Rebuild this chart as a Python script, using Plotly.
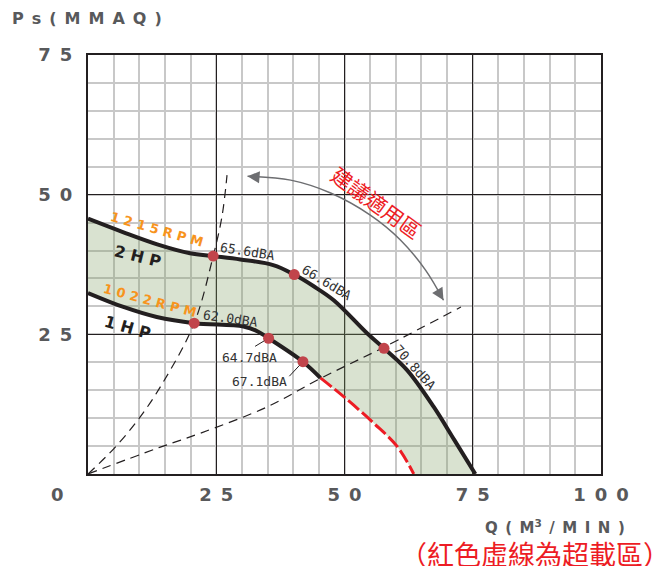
import plotly.graph_objects as go

# 2HP / 1215RPM curve
q_2hp = [0, 6.8, 13.5, 19.9, 24.4, 29.7, 36.1, 40.2, 44, 47.9, 54.4, 57.7, 62.2, 67.4, 71.4, 75.5]
ps_2hp = [45.7, 43.3, 41.1, 39.5, 39.0, 38.4, 37.4, 35.7, 33.6, 31.1, 25.2, 22.5, 18.6, 12.0, 6.1, 0]

# 1HP / 1022RPM curve, normal part then overload part (red dashed)
q_1hp = [0, 6.9, 13.4, 20.7, 30.3, 32.9, 35.2, 41.9, 45.3]
ps_1hp = [32.4, 29.9, 28.1, 27.0, 26.4, 25.6, 24.3, 20.1, 17.2]
q_1hp_over = [45.3, 49.9, 55.7, 60.3, 63.5]
ps_1hp_over = [17.2, 13.8, 9.1, 4.9, 0]

# system resistance curves
q_sys_a = [0, 5.1, 10.0, 14.5, 20.7, 24.4, 26.1, 27.1]
ps_sys_a = [0, 4.6, 10.0, 16.2, 27.0, 39.0, 46.0, 53.5]
q_sys_b = [0, 14.1, 21.9, 34.9, 45.3, 57.7, 72.7]
ps_sys_b = [0, 4.8, 7.3, 12.0, 17.1, 22.7, 29.9]

# noise points
pt_q = [24.4, 40.2, 57.7, 20.7, 35.2, 41.9]
pt_ps = [39.0, 35.7, 22.5, 27.0, 24.3, 20.1]
pt_lbl = ["65.6dBA", "66.6dBA", "70.8dBA", "62.0dBA", "64.7dBA", "67.1dBA"]

# recommended range arc
arc_q = [31.1, 39.5, 47.3, 55.1, 60.9, 65.8, 69.3]
arc_ps = [53.3, 52.6, 50.3, 46.3, 41.9, 36.5, 31.1]

x_ticks = [25, 50, 75, 100]
y_ticks = [25, 50, 75]

BLACK = "#231f20"
GRAY = "#58595b"
ORANGE = "#f7941d"
RED = "#ed1c24"
DOT = "#c1444b"

sp = "\u2002"

fig = go.Figure()

# shaded band between the two curves
fig.add_trace(go.Scatter(x=q_1hp + q_1hp_over[1:], y=ps_1hp + ps_1hp_over[1:],
                         mode="lines", line=dict(width=0, shape="spline"),
                         hoverinfo="skip", showlegend=False))
fig.add_trace(go.Scatter(x=q_2hp, y=ps_2hp, mode="lines", fill="tonexty",
                         fillcolor="rgba(130,160,100,0.3)",
                         line=dict(width=0, shape="spline"),
                         hoverinfo="skip", showlegend=False))

for qq, pp in [(q_sys_a, ps_sys_a), (q_sys_b, ps_sys_b)]:
    fig.add_trace(go.Scatter(x=qq, y=pp, mode="lines",
                             line=dict(color=BLACK, width=1.2, dash="9px,6px", shape="spline"),
                             hoverinfo="skip", showlegend=False))

fig.add_trace(go.Scatter(x=q_1hp_over, y=ps_1hp_over, mode="lines",
                         line=dict(color=RED, width=3, dash="14px,4px", shape="spline"),
                         hoverinfo="skip", showlegend=False))
fig.add_trace(go.Scatter(x=q_1hp, y=ps_1hp, mode="lines",
                         line=dict(color=BLACK, width=4, shape="spline"),
                         hoverinfo="skip", showlegend=False))
fig.add_trace(go.Scatter(x=q_2hp, y=ps_2hp, mode="lines",
                         line=dict(color=BLACK, width=4, shape="spline"),
                         hoverinfo="skip", showlegend=False))

fig.add_trace(go.Scatter(x=arc_q, y=arc_ps, mode="lines",
                         line=dict(color="#6d6e71", width=1.5, shape="spline"),
                         hoverinfo="skip", showlegend=False))

fig.add_trace(go.Scatter(x=pt_q, y=pt_ps, mode="markers",
                         marker=dict(color=DOT, size=11),
                         hoverinfo="skip", showlegend=False))

# arrow heads on the arc
fig.add_annotation(x=arc_q[0], y=arc_ps[0], ax=12, ay=1, text="", showarrow=True,
                   arrowhead=2, arrowsize=1.6, arrowwidth=1.5, arrowcolor="#6d6e71")
fig.add_annotation(x=arc_q[-1], y=arc_ps[-1], ax=-6, ay=-10, text="", showarrow=True,
                   arrowhead=2, arrowsize=1.6, arrowwidth=1.5, arrowcolor="#6d6e71")

fig.add_annotation(x=56.2, y=48.6, text="建議適用區", showarrow=False, textangle=36,
                   font=dict(family="Noto Sans CJK TC", size=21, color=RED))

# curve labels
big = [("1\u00a02\u00a01\u00a05\u00a0R\u00a0P\u00a0M", 13.5, 43.8, 16, ORANGE, 13),
       ("2\u00a0H\u00a0P", 9.8, 39.0, 14, BLACK, 16),
       ("1\u00a00\u00a02\u00a02\u00a0R\u00a0P\u00a0M", 12.1, 31.1, 15, ORANGE, 13),
       ("1\u00a0H\u00a0P", 7.8, 26.3, 16, BLACK, 16)]
for t, xx, yy, ang, col, sz in big:
    fig.add_annotation(x=xx, y=yy, text="<b>" + t + "</b>", showarrow=False, textangle=ang,
                       font=dict(family="DejaVu Sans", size=sz, color=col))

# dBA labels
lbl_pos = [(31.1, 39.9, 9), (46.5, 34.2, 31), (63.7, 19.0, 48),
           (27.7, 27.9, 8), (31.4, 20.9, 0), (33.4, 16.5, 0)]
for t, (xx, yy, ang) in zip(pt_lbl, lbl_pos):
    fig.add_annotation(x=xx, y=yy, text=t, showarrow=False, textangle=ang,
                       font=dict(family="DejaVu Sans Mono", size=13, color="#333333"))

# leaders for the two lower labels
fig.add_annotation(x=pt_q[4], y=pt_ps[4], ax=-15, ay=9, text="", showarrow=True,
                   arrowhead=0, arrowwidth=1, arrowcolor=BLACK, standoff=5)
fig.add_annotation(x=pt_q[5], y=pt_ps[5], ax=-15, ay=16, text="", showarrow=True,
                   arrowhead=0, arrowwidth=1, arrowcolor=BLACK, standoff=5)

tick_font = dict(family="DejaVu Sans", size=18, color=GRAY)

fig.add_annotation(xref="paper", yref="paper", x=-0.06, y=-0.05, xanchor="center",
                   yanchor="middle", text="<b>0</b>", showarrow=False, font=tick_font)

fig.add_annotation(xref="paper", yref="paper", x=-0.152, y=1.088, xanchor="left",
                   yanchor="middle",
                   text="<b>P" + sp + "s" + sp + "(" + sp + "M" + sp + "M" + sp + "A" + sp + "Q" + sp + ")</b>",
                   showarrow=False, font=dict(family="DejaVu Sans", size=16, color=GRAY))
fig.add_annotation(xref="paper", yref="paper", x=0.77, y=-0.126, xanchor="left",
                   yanchor="middle",
                   text="<b>Q" + sp + "(" + sp + "M<sup>3</sup>" + sp + "/" + sp + "M" + sp + "I" + sp + "N" + sp + ")</b>",
                   showarrow=False, font=dict(family="DejaVu Sans", size=15, color=GRAY))
fig.add_annotation(xref="paper", yref="paper", x=0.604, y=-0.19, xanchor="left",
                   yanchor="middle",
                   text="（紅色虛線為超載區）", showarrow=False,
                   font=dict(family="Noto Sans CJK TC", size=27, color=RED))

fig.update_xaxes(range=[0, 100], tickvals=x_ticks,
                 ticktext=["<b>" + sp.join(str(v)) + "</b>" for v in x_ticks],
                 tickfont=tick_font, ticks="", ticklabelstandoff=3,
                 showgrid=True, gridcolor=BLACK, gridwidth=1.3,
                 minor=dict(dtick=5, showgrid=True, gridcolor="#c8c8c8", gridwidth=2),
                 showline=True, mirror=True, linecolor=BLACK, linewidth=2,
                 zeroline=False, fixedrange=True)
fig.update_yaxes(range=[0, 75], tickvals=y_ticks,
                 ticktext=["<b>" + sp.join(str(v)) + "</b>" for v in y_ticks],
                 tickfont=tick_font, ticks="", ticklabelstandoff=10,
                 showgrid=True, gridcolor=BLACK, gridwidth=1.3,
                 minor=dict(dtick=5, showgrid=True, gridcolor="#c8c8c8", gridwidth=2),
                 showline=True, mirror=True, linecolor=BLACK, linewidth=2,
                 zeroline=False, fixedrange=True)

# page body has an 8px margin, so the figure is a bit smaller than the window
fig.update_layout(width=654, height=558,
                  margin=dict(l=80, r=61, t=47, b=92),
                  plot_bgcolor="white", paper_bgcolor="white",
                  showlegend=False)

fig.write_html("out.html")
